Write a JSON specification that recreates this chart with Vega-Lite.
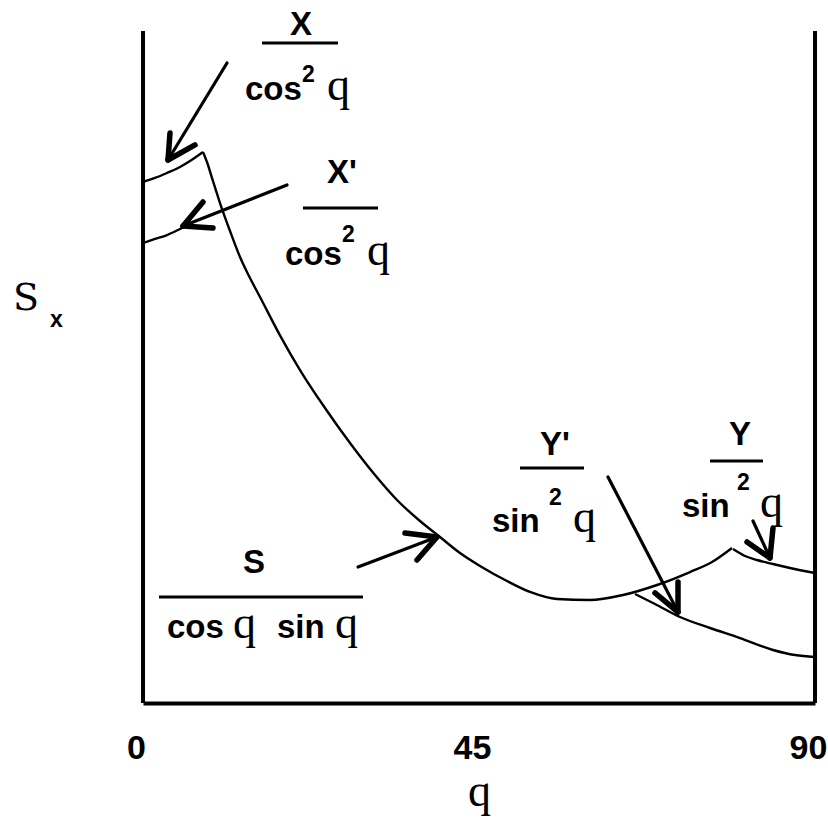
{
  "$schema": "https://vega.github.io/schema/vega-lite/v6.json",
  "width": 672,
  "height": 672,
  "autosize": {"type": "none"},
  "padding": {"left": 143, "top": 31, "right": 13, "bottom": 133},
  "background": "white",
  "config": {"view": {"stroke": null}},
  "datasets": {
    "curves": [
      {"curve": "X/cos2", "q": 0.0, "s": 77.53},
      {"curve": "X/cos2", "q": 1.607, "s": 78.13},
      {"curve": "X/cos2", "q": 3.214, "s": 78.87},
      {"curve": "X/cos2", "q": 4.955, "s": 79.76},
      {"curve": "X/cos2", "q": 6.295, "s": 80.65},
      {"curve": "X/cos2", "q": 8.036, "s": 81.99},
      {"curve": "X'/cos2", "q": 0.0, "s": 68.45},
      {"curve": "X'/cos2", "q": 1.607, "s": 69.05},
      {"curve": "X'/cos2", "q": 3.214, "s": 69.64},
      {"curve": "X'/cos2", "q": 4.688, "s": 70.39},
      {"curve": "X'/cos2", "q": 5.759, "s": 70.98},
      {"curve": "S/cos sin", "q": 8.036, "s": 81.99},
      {"curve": "S/cos sin", "q": 8.705, "s": 80.06},
      {"curve": "S/cos sin", "q": 9.241, "s": 78.13},
      {"curve": "S/cos sin", "q": 10.313, "s": 74.40},
      {"curve": "S/cos sin", "q": 11.652, "s": 70.24},
      {"curve": "S/cos sin", "q": 12.991, "s": 66.37},
      {"curve": "S/cos sin", "q": 14.330, "s": 63.24},
      {"curve": "S/cos sin", "q": 15.670, "s": 60.42},
      {"curve": "S/cos sin", "q": 18.348, "s": 54.71},
      {"curve": "S/cos sin", "q": 21.027, "s": 49.55},
      {"curve": "S/cos sin", "q": 24.375, "s": 43.90},
      {"curve": "S/cos sin", "q": 27.723, "s": 38.69},
      {"curve": "S/cos sin", "q": 31.071, "s": 33.93},
      {"curve": "S/cos sin", "q": 34.018, "s": 30.21},
      {"curve": "S/cos sin", "q": 37.098, "s": 27.08},
      {"curve": "S/cos sin", "q": 39.777, "s": 24.70},
      {"curve": "S/cos sin", "q": 42.455, "s": 22.32},
      {"curve": "S/cos sin", "q": 45.134, "s": 20.39},
      {"curve": "S/cos sin", "q": 48.750, "s": 18.15},
      {"curve": "S/cos sin", "q": 51.830, "s": 16.52},
      {"curve": "S/cos sin", "q": 55.446, "s": 15.48},
      {"curve": "S/cos sin", "q": 59.866, "s": 15.33},
      {"curve": "S/cos sin", "q": 64.286, "s": 16.07},
      {"curve": "S/cos sin", "q": 68.839, "s": 17.56},
      {"curve": "S/cos sin", "q": 73.259, "s": 19.49},
      {"curve": "S/cos sin", "q": 76.205, "s": 20.98},
      {"curve": "S/cos sin", "q": 78.884, "s": 23.07},
      {"curve": "Y/sin2", "q": 79.018, "s": 22.92},
      {"curve": "Y/sin2", "q": 80.625, "s": 21.88},
      {"curve": "Y/sin2", "q": 82.232, "s": 21.28},
      {"curve": "Y/sin2", "q": 84.375, "s": 20.68},
      {"curve": "Y/sin2", "q": 86.652, "s": 20.09},
      {"curve": "Y/sin2", "q": 90.0, "s": 19.35},
      {"curve": "Y'/sin2", "q": 65.893, "s": 16.22},
      {"curve": "Y'/sin2", "q": 68.571, "s": 14.73},
      {"curve": "Y'/sin2", "q": 71.920, "s": 12.80},
      {"curve": "Y'/sin2", "q": 75.938, "s": 11.16},
      {"curve": "Y'/sin2", "q": 79.955, "s": 9.67},
      {"curve": "Y'/sin2", "q": 84.375, "s": 7.89},
      {"curve": "Y'/sin2", "q": 87.321, "s": 7.14},
      {"curve": "Y'/sin2", "q": 90.0, "s": 6.85}
    ],
    "arrows": [
      {"part": "shaft", "q": 11.250, "s": 95.24, "q2": 3.348, "s2": 80.80},
      {"part": "head", "q": 3.348, "s": 80.80, "q2": 3.616, "s2": 84.82},
      {"part": "head", "q": 3.348, "s": 80.80, "q2": 6.964, "s2": 83.04},
      {"part": "shaft", "q": 19.286, "s": 77.08, "q2": 5.357, "s2": 70.98},
      {"part": "head", "q": 5.357, "s": 70.98, "q2": 8.036, "s2": 74.55},
      {"part": "head", "q": 5.357, "s": 70.98, "q2": 9.375, "s2": 70.68},
      {"part": "shaft", "q": 28.795, "s": 20.24, "q2": 39.375, "s2": 24.70},
      {"part": "head", "q": 39.375, "s": 24.70, "q2": 35.089, "s2": 25.30},
      {"part": "head", "q": 39.375, "s": 24.70, "q2": 36.696, "s2": 21.28},
      {"part": "shaft", "q": 62.277, "s": 33.63, "q2": 71.652, "s2": 13.54},
      {"part": "head", "q": 71.652, "s": 13.54, "q2": 68.571, "s2": 16.37},
      {"part": "head", "q": 71.652, "s": 13.54, "q2": 71.652, "s2": 18.01},
      {"part": "shaft", "q": 81.696, "s": 27.08, "q2": 83.973, "s2": 21.58},
      {"part": "head", "q": 83.973, "s": 21.58, "q2": 80.893, "s2": 23.96},
      {"part": "head", "q": 83.973, "s": 21.58, "q2": 84.375, "s2": 26.04}
    ],
    "bars": [
      {"q": 15.938, "q2": 26.116, "s": 98.21},
      {"q": 21.429, "q2": 31.473, "s": 73.66},
      {"q": 50.491, "q2": 59.063, "s": 34.97},
      {"q": 75.938, "q2": 83.036, "s": 36.01},
      {"q": 2.143, "q2": 29.464, "s": 15.77}
    ],
    "labels": [
      {"role": "numerator", "text": "X", "q": 21.161, "s": 99.40},
      {"role": "numerator", "text": "X'", "q": 26.652, "s": 77.38},
      {"role": "numerator", "text": "Y'", "q": 55.179, "s": 36.90},
      {"role": "numerator", "text": "Y", "q": 79.955, "s": 38.39},
      {"role": "numerator", "text": "S", "q": 14.866, "s": 19.35},
      {"role": "trig", "text": "cos", "q": 13.661, "s": 89.73},
      {"role": "trig", "text": "cos", "q": 19.018, "s": 65.18},
      {"role": "trig", "text": "sin", "q": 46.741, "s": 25.45},
      {"role": "trig", "text": "sin", "q": 72.188, "s": 27.68},
      {"role": "trig", "text": "cos", "q": 3.214, "s": 9.67},
      {"role": "trig", "text": "sin", "q": 17.946, "s": 9.67},
      {"role": "power", "text": "2", "q": 21.295, "s": 92.41},
      {"role": "power", "text": "2", "q": 26.652, "s": 68.60},
      {"role": "power", "text": "2", "q": 54.375, "s": 29.46},
      {"role": "power", "text": "2", "q": 79.554, "s": 31.70},
      {"role": "angle", "text": "q", "q": 24.643, "s": 89.73},
      {"role": "angle", "text": "q", "q": 30.0, "s": 65.18},
      {"role": "angle", "text": "q", "q": 57.589, "s": 25.45},
      {"role": "angle", "text": "q", "q": 82.634, "s": 27.68},
      {"role": "angle", "text": "q", "q": 12.054, "s": 9.67},
      {"role": "angle", "text": "q", "q": 25.714, "s": 9.67},
      {"role": "sigma", "text": "S", "q": -17.411, "s": 58.50},
      {"role": "subscript", "text": "x", "q": -12.455, "s": 55.95}
    ]
  },
  "layer": [
    {
      "data": {"name": "curves"},
      "mark": {"type": "line", "color": "black", "strokeWidth": 2.4, "interpolate": "monotone", "clip": false},
      "encoding": {
        "x": {
          "field": "q", "type": "quantitative",
          "scale": {"domain": [0, 90], "nice": false, "zero": false},
          "axis": {
            "values": [0, 45, 90], "grid": false, "ticks": false, "tickSize": 0,
            "domainColor": "black", "domainWidth": 4,
            "labelFont": "Liberation Sans", "labelFontWeight": "bold", "labelFontSize": 34,
            "labelColor": "black", "labelFlush": false, "labelOffset": -7,
            "labelBaseline": "alphabetic", "labelPadding": 55,
            "title": "q", "titleFont": "Liberation Serif", "titleFontWeight": "normal",
            "titleFontSize": 46, "titleColor": "black",
            "titleBaseline": "alphabetic", "titleY": 102
          }
        },
        "y": {
          "field": "s", "type": "quantitative",
          "scale": {"domain": [0, 100], "nice": false, "zero": false},
          "axis": null
        },
        "detail": {"field": "curve"}
      }
    },
    {
      "data": {"values": [{"q": 0}, {"q": 90}]},
      "mark": {"type": "rule", "color": "black", "strokeWidth": 4},
      "encoding": {"x": {"field": "q", "type": "quantitative"}}
    },
    {
      "data": {"name": "bars"},
      "mark": {"type": "rule", "color": "black", "strokeWidth": 3},
      "encoding": {
        "x": {"field": "q", "type": "quantitative"},
        "x2": {"field": "q2"},
        "y": {"field": "s", "type": "quantitative"}
      }
    },
    {
      "data": {"name": "arrows"},
      "transform": [{"filter": "datum.part === 'shaft'"}],
      "mark": {"type": "rule", "color": "black", "strokeWidth": 3.2, "strokeCap": "round"},
      "encoding": {
        "x": {"field": "q", "type": "quantitative"},
        "y": {"field": "s", "type": "quantitative"},
        "x2": {"field": "q2"},
        "y2": {"field": "s2"}
      }
    },
    {
      "data": {"name": "arrows"},
      "transform": [{"filter": "datum.part === 'head'"}],
      "mark": {"type": "rule", "color": "black", "strokeWidth": 5.5, "strokeCap": "round"},
      "encoding": {
        "x": {"field": "q", "type": "quantitative"},
        "y": {"field": "s", "type": "quantitative"},
        "x2": {"field": "q2"},
        "y2": {"field": "s2"}
      }
    },
    {
      "data": {"name": "labels"},
      "transform": [{"filter": "datum.role === 'numerator'"}],
      "mark": {"type": "text", "font": "Liberation Sans", "fontWeight": "bold", "fontSize": 33, "align": "center", "baseline": "alphabetic", "color": "black"},
      "encoding": {
        "x": {"field": "q", "type": "quantitative"},
        "y": {"field": "s", "type": "quantitative"},
        "text": {"field": "text"}
      }
    },
    {
      "data": {"name": "labels"},
      "transform": [{"filter": "datum.role === 'trig'"}],
      "mark": {"type": "text", "font": "Liberation Sans", "fontWeight": "bold", "fontSize": 33, "align": "left", "baseline": "alphabetic", "color": "black"},
      "encoding": {
        "x": {"field": "q", "type": "quantitative"},
        "y": {"field": "s", "type": "quantitative"},
        "text": {"field": "text"}
      }
    },
    {
      "data": {"name": "labels"},
      "transform": [{"filter": "datum.role === 'power'"}],
      "mark": {"type": "text", "font": "Liberation Sans", "fontWeight": "bold", "fontSize": 23, "align": "left", "baseline": "alphabetic", "color": "black"},
      "encoding": {
        "x": {"field": "q", "type": "quantitative"},
        "y": {"field": "s", "type": "quantitative"},
        "text": {"field": "text"}
      }
    },
    {
      "data": {"name": "labels"},
      "transform": [{"filter": "datum.role === 'angle'"}],
      "mark": {"type": "text", "font": "Liberation Serif", "fontSize": 46, "align": "left", "baseline": "alphabetic", "color": "black"},
      "encoding": {
        "x": {"field": "q", "type": "quantitative"},
        "y": {"field": "s", "type": "quantitative"},
        "text": {"field": "text"}
      }
    },
    {
      "data": {"name": "labels"},
      "transform": [{"filter": "datum.role === 'sigma'"}],
      "mark": {"type": "text", "font": "DejaVu Serif", "fontSize": 38, "align": "left", "baseline": "alphabetic", "color": "black"},
      "encoding": {
        "x": {"field": "q", "type": "quantitative"},
        "y": {"field": "s", "type": "quantitative"},
        "text": {"field": "text"}
      }
    },
    {
      "data": {"name": "labels"},
      "transform": [{"filter": "datum.role === 'subscript'"}],
      "mark": {"type": "text", "font": "Liberation Sans", "fontWeight": "bold", "fontSize": 23, "align": "left", "baseline": "alphabetic", "color": "black"},
      "encoding": {
        "x": {"field": "q", "type": "quantitative"},
        "y": {"field": "s", "type": "quantitative"},
        "text": {"field": "text"}
      }
    }
  ]
}
